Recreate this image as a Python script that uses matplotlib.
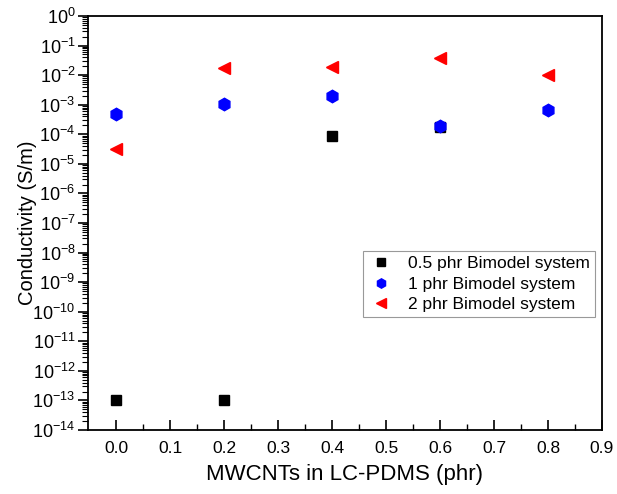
import matplotlib
matplotlib.use("Agg")
import matplotlib.pyplot as plt
from matplotlib.ticker import LogLocator, FixedLocator, NullFormatter

plt.rcParams['font.family'] = ['Liberation Sans', 'DejaVu Sans']
plt.rcParams['mathtext.fontset'] = 'custom'
plt.rcParams['mathtext.rm'] = 'Liberation Sans'
plt.rcParams['mathtext.it'] = 'Liberation Sans'

x_black = [0.0, 0.2, 0.4, 0.6]
y_black = [1e-13, 1e-13, 9e-5, 1.8e-4]
x_blue = [0.0, 0.2, 0.4, 0.6, 0.8]
y_blue = [4.9e-4, 1.07e-3, 1.9e-3, 1.85e-4, 6.7e-4]
x_red = [0.0, 0.2, 0.4, 0.6, 0.8]
y_red = [3.2e-5, 1.7e-2, 1.95e-2, 3.7e-2, 1.02e-2]
labels = ["0.5 phr Bimodel system", "1 phr Bimodel system", "2 phr Bimodel system"]

fig = plt.figure(figsize=(6.17, 4.94), dpi=100)
ax = fig.add_axes([88/617, 1-430/494, (602-88)/617, (430-16)/494])

ax.plot(x_black, y_black, 's', color='black', markersize=7, linestyle='none', label=labels[0])
ax.plot(x_blue, y_blue, 'h', color='blue', markersize=9, linestyle='none', label=labels[1])
ax.plot(x_red, y_red, '<', color='red', markersize=9, linestyle='none', label=labels[2])

ax.set_yscale('log')
ax.set_ylim(1e-14, 1)
ax.set_xlim(-0.052, 0.9)
ax.yaxis.set_major_locator(LogLocator(base=10, numticks=20))
ax.yaxis.set_minor_locator(LogLocator(base=10, subs=range(2, 10), numticks=20))
ax.yaxis.set_minor_formatter(NullFormatter())
ax.set_xticks([0.0, 0.1, 0.2, 0.3, 0.4, 0.5, 0.6, 0.7, 0.8, 0.9])
ax.set_xticklabels(["0.0", "0.1", "0.2", "0.3", "0.4", "0.5", "0.6", "0.7", "0.8", "0.9"])
ax.xaxis.set_minor_locator(FixedLocator([0.05 + 0.1*i for i in range(9)]))

ax.tick_params(axis='y', which='major', labelsize=13, length=7, width=1.2, direction='out', pad=2)
ax.tick_params(axis='y', which='minor', length=4, width=0.8, direction='out')
ax.tick_params(axis='x', which='major', labelsize=12.5, length=7, width=1.2, direction='in', pad=8)
ax.tick_params(axis='x', which='minor', length=4, width=1.0, direction='in')
for s in ax.spines.values():
    s.set_linewidth(1.3)

ax.set_xlabel("MWCNTs in LC-PDMS (phr)", fontsize=16, labelpad=6)
ax.set_ylabel("Conductivity (S/m)", fontsize=14.5, labelpad=-3)

leg = ax.legend(loc='upper left', bbox_to_anchor=((363-88)/514, 1-(251-16)/414),
                borderaxespad=0,
                fontsize=12.5, frameon=True, fancybox=False, edgecolor='gray',
                handletextpad=0.8, borderpad=0.3, labelspacing=0.3, markerscale=0.75,
                handlelength=1.5)
leg.get_frame().set_linewidth(0.8)

fig.savefig("out.png", dpi=100)
